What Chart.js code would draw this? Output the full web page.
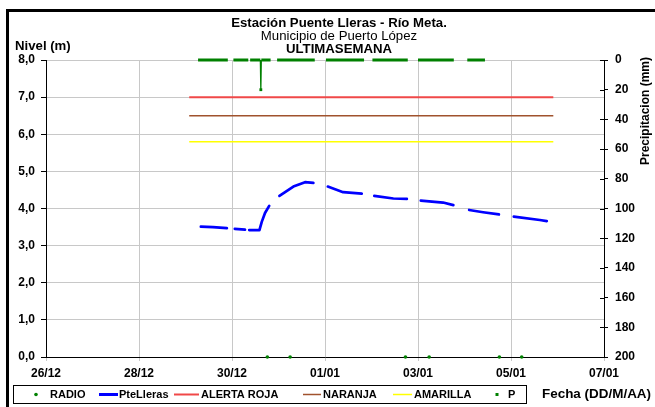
<!DOCTYPE html>
<html>
<head>
<meta charset="utf-8">
<script src="https://cdn.jsdelivr.net/npm/chart.js@4.4.1/dist/chart.umd.min.js"></script>
<style>
  html, body { margin: 0; padding: 0; background: #ffffff; }
  canvas { display: block; }
</style>
</head>
<body>
<canvas id="grafico" width="655" height="407"></canvas>
<script>
// Datos (x = días desde 26/12)
const etiquetasFecha = ['26/12', '28/12', '30/12', '01/01', '03/01', '05/01', '07/01'];

// Nivel PteLleras (m), null = hueco en el registro
const nivelDias    = [3.33, 3.59, 3.89, 3.98, 4.06, 4.28, 4.33, 4.37, 4.59, 4.64, 4.71, 4.80, 4.91, 5.02, 5.32, 5.57, 5.75, 5.90, 6.06, 6.39, 6.79, 6.93, 7.06, 7.47, 7.76, 7.91, 8.06, 8.54, 8.76, 8.93, 9.10, 9.40, 9.74, 9.90, 10.06, 10.62, 10.77];
const nivelValores = [3.51, 3.50, 3.47, null, 3.45, 3.43, null, 3.42, 3.42, 3.64, 3.88, 4.07, null, 4.34, 4.59, 4.71, 4.69, null, 4.59, 4.44, 4.40, null, 4.34, 4.27, 4.26, null, 4.21, 4.16, 4.09, null, 3.96, 3.90, 3.84, null, 3.78, 3.69, 3.66];

// Precipitación P (mm)
const precipDias    = [3.27, 3.91, 3.97, 4.03, 4.35, 4.37, 4.39, 4.61, 4.62, 4.63, 4.83, 4.90, 4.97, 5.78, 5.90, 6.02, 6.84, 6.93, 7.02, 7.78, 7.89, 8.00, 8.77, 8.92, 9.06, 9.44];
const precipValores = [0, 0, null, 0, 0, null, 0, 0, 20, 0, 0, null, 0, 0, null, 0, 0, null, 0, 0, null, 0, 0, null, 0, 0];

// RADIO
const radioDias    = [4.76, 5.25, 7.73, 8.24, 9.75, 10.23];
const radioValores = [0, 0, 0, 0, 0, 0];

// Umbrales de alerta (m)
const umbralDias = [3.08, 10.91];
const alertaRoja = [7.0, 7.0];
const naranja    = [6.5, 6.5];
const amarilla   = [5.8, 5.8];

const FUENTE = "'Liberation Sans', Arial, sans-serif";
Chart.defaults.font.family = FUENTE;
Chart.defaults.color = '#000000';

function puntos(dias, valores) {
    return dias.map((d, i) => ({ x: d, y: valores[i] }));
}

function texto(ctx, t, x, y, font, align, sx) {
    ctx.save();
    ctx.font = font;
    ctx.textAlign = align;
    ctx.textBaseline = 'middle';
    ctx.fillStyle = '#000';
    ctx.translate(x, y);
    ctx.scale(sx || 1, 1);
    ctx.fillText(t, 0, 0);
    ctx.restore();
}

// fondo, marco, titulos y leyenda
const decoracion = {
    id: 'decoracion',
    beforeDraw(chart) {
        const ctx = chart.ctx;
        ctx.save();
        ctx.fillStyle = '#ffffff';
        ctx.fillRect(0, 0, chart.width, chart.height);
        ctx.restore();
    },
    afterDraw(chart) {
        const ctx = chart.ctx;
        const area = chart.chartArea;
        const y2 = chart.scales.y2;

        // marcas del eje derecho que cruzan el eje
        ctx.save();
        ctx.strokeStyle = '#000';
        ctx.lineWidth = 1;
        y2.ticks.forEach(t => {
            const py = Math.round(y2.getPixelForValue(t.value)) + 0.5;
            ctx.beginPath();
            ctx.moveTo(area.right - 4, py);
            ctx.lineTo(area.right, py);
            ctx.stroke();
        });
        ctx.restore();

        // marco
        ctx.save();
        ctx.fillStyle = '#000';
        ctx.fillRect(6, 9, 3, chart.height - 9);
        ctx.fillRect(6, 9, chart.width - 6, 3);
        ctx.restore();

        // titulos
        const cx = 339;
        texto(ctx, 'Estación Puente Lleras - Río Meta.', cx, 24, 'bold 12px ' + FUENTE, 'center', 1.1);
        texto(ctx, 'Municipio de Puerto López', cx, 37, '12px ' + FUENTE, 'center', 1.1);
        texto(ctx, 'ULTIMASEMANA', cx, 50, 'bold 12px ' + FUENTE, 'center', 1.1);
        texto(ctx, 'Nivel (m)', 15, 47, 'bold 12px ' + FUENTE, 'left', 1.1);
        texto(ctx, 'Fecha (DD/M/AA)', 542, 395, 'bold 12px ' + FUENTE, 'left', 1.12);

        ctx.save();
        ctx.translate(646, 111);
        ctx.rotate(-Math.PI / 2);
        texto(ctx, 'Precipitacion (mm)', 0, 0, 'bold 12px ' + FUENTE, 'center', 1);
        ctx.restore();

        // leyenda
        ctx.save();
        ctx.strokeStyle = '#000';
        ctx.lineWidth = 1;
        ctx.strokeRect(13.5, 385.5, 513, 18);
        const ly = 394.5;
        const lineas = [
            [99, 118, '#0000ff', 3],
            [174, 199, '#f04848', 2],
            [303, 321, '#a0522d', 1.5],
            [393, 412, '#ffff00', 1.5]
        ];
        lineas.forEach(([a, b, c, w]) => {
            ctx.strokeStyle = c;
            ctx.lineWidth = w;
            ctx.beginPath();
            ctx.moveTo(a, ly);
            ctx.lineTo(b, ly);
            ctx.stroke();
        });
        ctx.fillStyle = '#008000';
        ctx.beginPath();
        ctx.arc(36, ly, 1.8, 0, Math.PI * 2);
        ctx.fill();
        ctx.fillRect(495.5, ly - 1.5, 3, 3);
        ctx.restore();

        const lf = 'bold 11px ' + FUENTE;
        texto(ctx, 'RADIO', 50, ly, lf, 'left', 1);
        texto(ctx, 'PteLleras', 119, ly, lf, 'left', 1);
        texto(ctx, 'ALERTA ROJA', 201, ly, lf, 'left', 1);
        texto(ctx, 'NARANJA', 323, ly, lf, 'left', 1);
        texto(ctx, 'AMARILLA', 414, ly, lf, 'left', 1);
        texto(ctx, 'P', 508, ly, lf, 'left', 1);
    }
};

const umbral = (label, valores, color, ancho) => ({
    label: label,
    data: puntos(umbralDias, valores),
    yAxisID: 'y',
    borderColor: color,
    backgroundColor: color,
    borderWidth: ancho,
    pointRadius: 0
});

new Chart(document.getElementById('grafico'), {
    type: 'line',
    data: {
        datasets: [
            {
                label: 'RADIO',
                data: puntos(radioDias, radioValores),
                yAxisID: 'y',
                showLine: false,
                pointStyle: 'circle',
                pointRadius: 1.8,
                pointBorderWidth: 0,
                backgroundColor: '#008000',
                borderColor: '#008000',
                clip: false
            },
            {
                label: 'PteLleras',
                data: puntos(nivelDias, nivelValores),
                yAxisID: 'y',
                borderColor: '#0000ff',
                backgroundColor: '#0000ff',
                borderWidth: 2.7,
                borderCapStyle: 'round',
                borderJoinStyle: 'round',
                pointRadius: 0,
                spanGaps: false
            },
            umbral('ALERTA ROJA', alertaRoja, '#f04848', 2),
            umbral('NARANJA', naranja, '#a0522d', 1.5),
            umbral('AMARILLA', amarilla, '#ffff00', 1.5),
            {
                label: 'P',
                data: puntos(precipDias, precipValores),
                yAxisID: 'y2',
                borderColor: '#008000',
                backgroundColor: '#008000',
                borderWidth: 3,
                spanGaps: false,
                clip: false,
                pointStyle: 'rect',
                pointRadius: c => (c.raw && c.raw.y > 0 ? 2 : 0),
                pointBorderWidth: 0,
                segment: {
                    borderWidth: c => (c.p0.parsed.y === 0 && c.p1.parsed.y === 0 ? 3 : 1.3)
                }
            }
        ]
    },
    options: {
        responsive: false,
        animation: false,
        devicePixelRatio: 1,
        layout: { padding: { top: 60, left: 0, right: 0, bottom: 0 } },
        plugins: {
            legend: { display: false },
            title: { display: false },
            tooltip: { enabled: false }
        },
        scales: {
            x: {
                type: 'linear',
                min: 0,
                max: 12,
                afterFit: s => { s.height = 50; },
                ticks: {
                    stepSize: 2,
                    padding: 5,
                    maxRotation: 0,
                    font: { size: 12, weight: 'bold' },
                    callback: v => etiquetasFecha[v / 2]
                },
                grid: { color: '#c8c8c8', tickLength: 4, tickColor: '#c8c8c8' },
                border: { color: '#000', width: 1 }
            },
            y: {
                position: 'left',
                min: 0,
                max: 8,
                afterFit: s => { s.width = 46; },
                ticks: {
                    stepSize: 1,
                    padding: 6,
                    font: { size: 12, weight: 'bold' },
                    callback: v => v.toFixed(1).replace('.', ',')
                },
                grid: { color: '#c8c8c8', tickLength: 5, tickColor: '#000' },
                border: { color: '#000', width: 1 }
            },
            y2: {
                position: 'right',
                min: 0,
                max: 200,
                reverse: true,
                afterFit: s => { s.width = 51; },
                ticks: {
                    stepSize: 20,
                    padding: 7,
                    font: { size: 12, weight: 'bold' }
                },
                grid: { drawOnChartArea: false, tickLength: 4, tickColor: '#000' },
                border: { color: '#000', width: 1 }
            }
        }
    },
    plugins: [decoracion]
});
</script>
</body>
</html>
